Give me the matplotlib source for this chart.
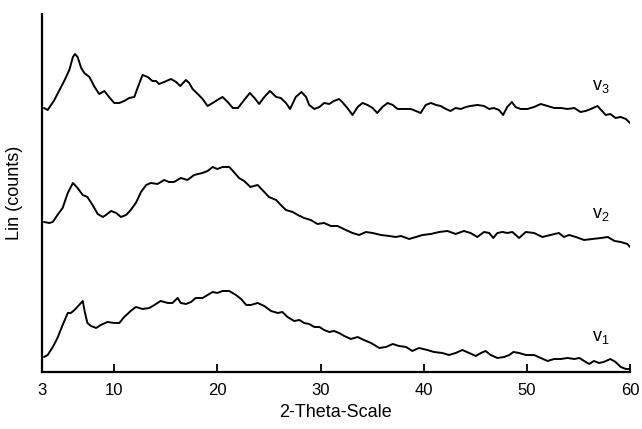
import numpy as np
import matplotlib
matplotlib.use('Agg')
import matplotlib.pyplot as plt

plt.rcParams['font.family'] = ['Liberation Sans', 'DejaVu Sans']
plt.rcParams['mathtext.default'] = 'regular'

# v3 (top curve)
tt_v3 = [3.2, 3.55, 4.2, 5.2, 5.65, 6.0, 6.2, 6.45, 6.8, 7.1, 7.6, 8.1, 8.55, 9.05, 9.5, 10.0,
         10.5, 10.97, 11.45, 11.95, 12.3, 12.75, 13.25, 13.7, 14.05, 14.35, 14.85, 15.5, 16.0,
         16.4, 16.95, 17.27, 17.6, 18.1, 18.57, 19.05, 19.55, 20.0, 20.5, 21.0, 21.5, 22.0,
         22.6, 23.15, 23.6, 24.05, 24.55, 25.1, 25.7, 26.15, 26.65, 27.05, 27.6, 28.15, 28.6,
         28.9, 29.4, 29.9, 30.35, 30.85, 31.3, 31.8, 32.1, 32.6, 33.1, 33.6, 34.07, 34.56,
         35.05, 35.5, 36.0, 36.5, 37.0, 37.47, 38.1, 38.75, 39.25, 39.7, 40.2, 40.7, 41.2,
         41.65, 42.15, 42.6, 43.1, 43.6, 44.1, 44.55, 45.2, 45.85, 46.35, 46.8, 47.3, 47.7,
         48.1, 48.55, 48.9, 49.4, 50.05, 50.7, 51.35, 52.0, 52.65, 53.3, 53.95, 54.6, 55.2,
         55.7, 56.2, 56.85, 57.2, 57.65, 58.1, 58.6, 59.1, 59.6, 60.0]
cnt_v3 = [264, 262, 272, 292, 302, 315, 318, 315, 304, 299, 295, 285, 278, 281, 275, 269,
          269, 271, 274, 275, 285, 297, 295, 291, 291, 288, 290, 293, 290,
          286, 292, 289, 283, 278, 273, 266, 269, 272, 275, 270, 264, 264,
          272, 279, 274, 268, 275, 281, 275, 274, 269, 263, 275, 280, 275,
          267, 263, 265, 269, 268, 271, 273, 270, 264, 257, 265, 269, 267,
          264, 259, 265, 269, 267, 263, 263, 263, 261, 259, 267, 269, 267,
          266, 263, 261, 264, 263, 265, 266, 267, 266, 263, 264, 262, 257,
          265, 270, 265, 263, 263, 265, 268, 266, 264, 264, 263, 264, 260,
          261, 263, 266, 262, 257, 258, 254, 255, 253, 249]

# v2 (middle curve)
tt_v2 = [3.2, 3.7, 4.05, 4.5, 5.0, 5.5, 6.0, 6.45, 6.95, 7.4, 7.9, 8.4, 8.9, 9.2, 9.7, 10.2,
         10.65, 11.15, 11.6, 12.1, 12.6, 13.1, 13.55, 14.2, 14.85, 15.3, 15.8, 16.45, 17.1,
         17.75, 18.55, 19.05, 19.55, 20.0, 20.5, 21.15, 21.6, 22.1, 22.6, 23.2, 23.9, 24.55,
         25.0, 25.7, 26.15, 26.65, 27.3, 27.8, 28.4, 29.05, 29.7, 30.35, 31.0, 31.65, 32.45,
         33.1, 33.75, 34.4, 35.05, 35.85, 36.65, 37.3, 37.8, 38.6, 39.25, 39.9, 40.7, 41.5,
         42.3, 43.1, 43.9, 44.55, 45.2, 45.85, 46.35, 46.75, 47.15, 47.65, 48.1, 48.6, 49.25,
         49.9, 50.7, 51.5, 52.3, 53.1, 53.6, 54.1, 54.75, 55.55, 56.35, 57.2, 57.85, 58.5,
         59.1, 59.75, 60.0]
cnt_v2 = [150, 149, 150, 157, 164, 179, 189, 184, 177, 175, 167, 158, 155, 157, 161, 159,
          155, 157, 162, 169, 180, 187, 189, 188, 192, 190, 190, 194, 192,
          197, 199, 201, 205, 203, 205, 205, 200, 194, 191, 185, 187, 180,
          175, 172, 167, 162, 160, 157, 154, 152, 148, 149, 146, 146, 142,
          139, 137, 140, 139, 137, 136, 135, 136, 133, 135, 137, 138, 140,
          141, 138, 141, 139, 135, 140, 139, 134, 139, 140, 139, 140, 134,
          140, 139, 135, 137, 139, 135, 137, 135, 132, 133, 134, 135, 131,
          130, 128, 125]

# v1 (bottom curve)
tt_v1 = [3.2, 3.55, 4.05, 4.5, 5.0, 5.5, 5.8, 6.15, 6.6, 6.95, 7.15, 7.4, 7.75, 8.25, 8.7,
         9.35, 10.0, 10.5, 10.97, 11.6, 12.1, 12.75, 13.4, 13.9, 14.5, 15.2, 15.65, 16.15,
         16.45, 16.95, 17.45, 17.9, 18.57, 19.05, 19.55, 20.0, 20.5, 21.15, 21.8, 22.3, 22.8,
         23.25, 23.9, 24.55, 25.2, 25.85, 26.3, 26.8, 27.45, 27.95, 28.4, 28.9, 29.4, 29.9,
         30.35, 30.85, 31.3, 31.8, 32.3, 32.95, 33.6, 34.2, 34.9, 35.7, 36.35, 37.0, 37.6,
         38.3, 38.9, 39.55, 40.35, 41.0, 41.8, 42.45, 43.1, 43.75, 44.4, 45.05, 45.55, 46.0,
         46.5, 47.15, 47.8, 48.3, 48.7, 49.25, 49.9, 50.7, 51.35, 52.0, 52.65, 53.3, 53.95,
         54.6, 55.1, 55.55, 56.05, 56.5, 57.0, 57.45, 58.1, 58.6, 59.1, 59.6, 60.0]
cnt_v1 = [15, 17, 25, 34, 47, 59, 59, 62, 67, 71, 60, 49, 46, 44, 47,
          50, 49, 49, 55, 61, 65, 63, 64, 67, 71, 69, 69, 74,
          69, 68, 70, 74, 74, 77, 80, 79, 81, 81, 77, 73, 67,
          67, 69, 66, 61, 59, 60, 55, 51, 52, 49, 48, 45, 45,
          42, 40, 41, 39, 36, 33, 35, 32, 29, 24, 25, 28, 26,
          25, 21, 24, 22, 20, 19, 17, 19, 22, 19, 16, 19, 21,
          17, 14, 15, 17, 20, 19, 17, 17, 14, 11, 13, 13, 14,
          13, 14, 11, 8, 11, 9, 10, 13, 10, 5, 3, 3]

xticks = [3, 10, 20, 30, 40, 50, 60]

fig = plt.figure(figsize=(6.42, 4.29), dpi=100)
ax = fig.add_axes([0.0654, 0.1329, 0.9159, 0.8345])

for tt, cnt in [(tt_v1, cnt_v1), (tt_v2, cnt_v2), (tt_v3, cnt_v3)]:
    ax.plot(tt, cnt, color='black', lw=1.4, solid_joinstyle='round', solid_capstyle='round')

ax.text(57.2, 34, 'v$_1$', fontsize=13, ha='center', va='center')
ax.text(57.2, 157, 'v$_2$', fontsize=13, ha='center', va='center')
ax.text(57.2, 285, 'v$_3$', fontsize=13, ha='center', va='center')

ax.set_xlim(3, 60)
ax.set_ylim(0, 358)
ax.set_xticks(xticks)
ax.set_yticks([])
ax.tick_params(axis='x', direction='in', length=6, width=1.3, labelsize=12, pad=8)
for s in ['top', 'right']:
    ax.spines[s].set_visible(False)
for s in ['left', 'bottom']:
    ax.spines[s].set_linewidth(1.6)
ax.set_xlabel('2-Theta-Scale', fontsize=13, labelpad=4)
ax.set_ylabel('Lin (counts)', fontsize=13, labelpad=14)

fig.savefig('out.png', dpi=100)
